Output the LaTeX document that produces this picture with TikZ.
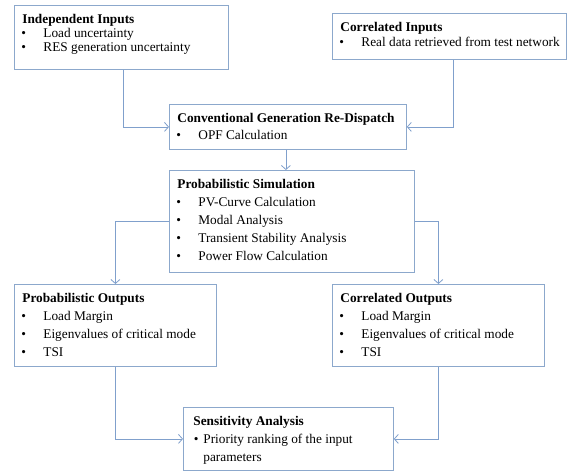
\documentclass[tikz,border=0pt]{standalone}
\usepackage{fontspec}
\setmainfont{Liberation Serif}
\usetikzlibrary{arrows.meta}
\definecolor{boxc}{RGB}{140,168,204}
\definecolor{linec}{RGB}{128,160,204}
\newcommand{\hd}[1]{\rule{0pt}{18pt}\hspace*{8pt}\textbf{#1}}
\newcommand{\itm}[1]{\\\hspace*{7pt}\makebox[22pt][l]{\textbullet}#1}
\newcommand{\bx}[4]{\parbox[c][#2][t]{#1}{\fontsize{13.3}{#3}\selectfont #4}}
\tikzset{
  box/.style={draw=boxc, line width=0.8pt, inner sep=0pt, anchor=north west, fill=white},
  arr/.style={draw=linec, line width=0.8pt, -{Straight Barb[length=4pt,width=9pt]}}
}
\begin{document}
\begin{tikzpicture}[x=1pt,y=-1pt]
\useasboundingbox (0,0) rectangle (577,474);
\node[box] (ii) at (14,5) {\bx{214pt}{64pt}{14pt}{\hd{Independent Inputs}\itm{Load uncertainty}\itm{RES generation uncertainty}}};
\node[box] (ci) at (332,13) {\bx{234pt}{46pt}{15pt}{\hd{Correlated Inputs}\itm{Real data retrieved from test network}}};
\node[box] (cg) at (169,104) {\bx{237pt}{45pt}{17pt}{\hd{Conventional Generation Re-Dispatch}\itm{OPF Calculation}}};
\node[box] (ps) at (169,170) {\bx{245pt}{102pt}{18pt}{\hd{Probabilistic Simulation}\itm{PV-Curve Calculation}\itm{Modal Analysis}\itm{Transient Stability Analysis}\itm{Power Flow Calculation}}};
\node[box] (po) at (14,284) {\bx{202pt}{82pt}{18pt}{\hd{Probabilistic Outputs}\itm{Load Margin}\itm{Eigenvalues of critical mode}\itm{TSI}}};
\node[box] (co) at (332,284) {\bx{212pt}{82pt}{18pt}{\hd{Correlated Outputs}\itm{Load Margin}\itm{Eigenvalues of critical mode}\itm{TSI}}};
\node[box] (sa) at (183,407) {\bx{210pt}{63pt}{18pt}{\rule{0pt}{18pt}\hspace*{10pt}\textbf{Sensitivity Analysis}\\\hspace*{10.5pt}\makebox[9.5pt][l]{\textbullet}Priority ranking of the input\\\hspace*{20pt}parameters}};
\draw[arr] ([xshift=2pt]ii.south) |- (cg.west);
\draw[arr] ([xshift=4pt]ci.south) |- (cg.east);
\draw[arr] ([xshift=-2pt]cg.south) -- ([xshift=-2pt]cg.south |- ps.north);
\draw[arr] (ps.west) -| (po.north);
\draw[arr] (ps.east) -| (co.north);
\draw[arr] (po.south) |- (sa.west);
\draw[arr] (co.south) |- (sa.east);
\end{tikzpicture}
\end{document}
